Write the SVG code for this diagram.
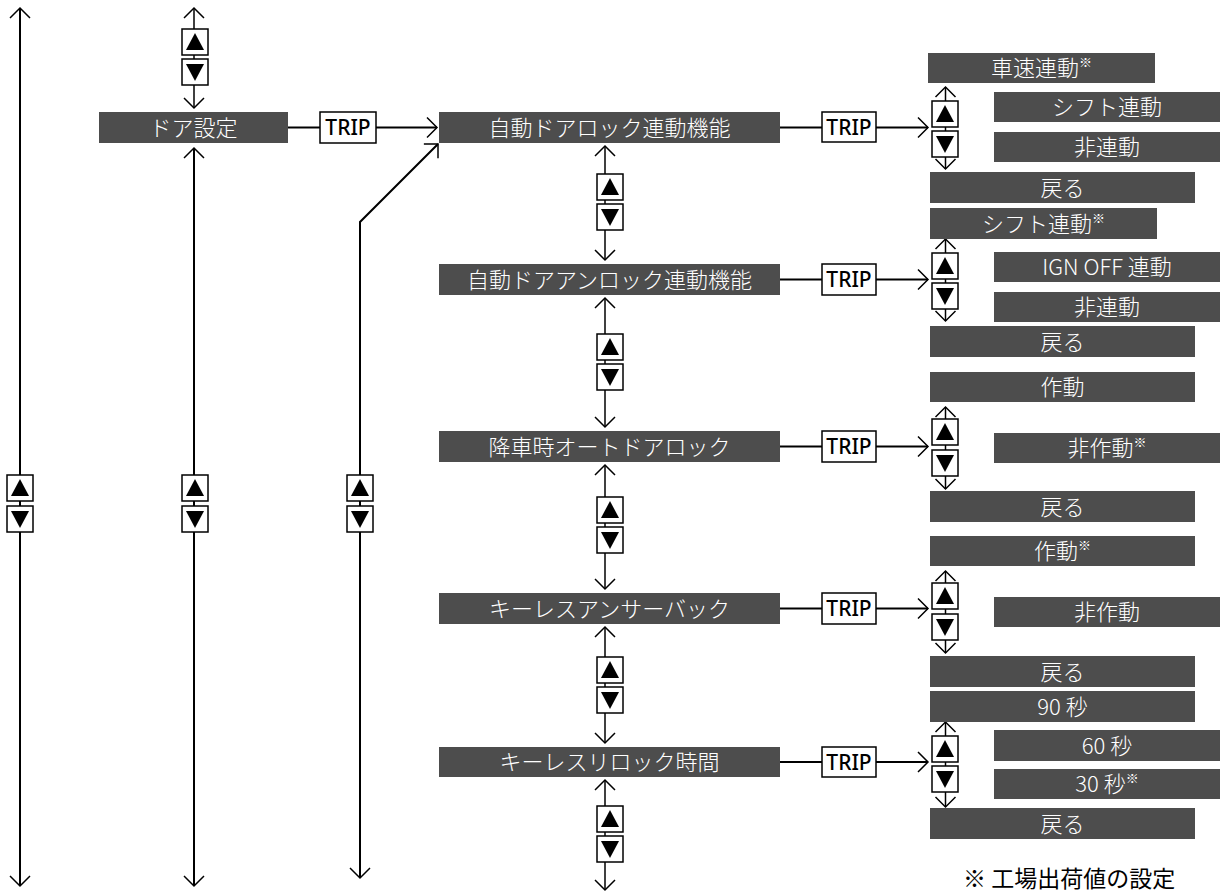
<svg xmlns="http://www.w3.org/2000/svg" xmlns:xlink="http://www.w3.org/1999/xlink" width="1220" height="895" viewBox="0 0 1220 895">
<style>
.n{fill:#4d4d4d}
.t{font-family:"Noto Sans CJK JP","Noto Sans",sans-serif;font-size:22px;font-weight:300;fill:#fff;text-anchor:middle}
.sup{font-size:13px}
.trip rect{fill:#fff;stroke:#000;stroke-width:1.5}
.trip text{font-family:"Noto Sans","Noto Sans CJK JP",sans-serif;font-size:21px;font-weight:500;fill:#000;text-anchor:middle}
.c{fill:none;stroke:#000;stroke-width:1.5}
.L{stroke-width:2}
.bi{marker-start:url(#ah);marker-end:url(#ah)}
.one{marker-end:url(#ah)}
.foot{font-family:"Noto Sans CJK JP","Noto Sans",sans-serif;font-size:23px;fill:#000}
</style>
<defs>
<marker id="ah" markerUnits="userSpaceOnUse" markerWidth="30" markerHeight="30" refX="12" refY="12" orient="auto-start-reverse" overflow="visible">
<path d="M2,2 L12,12 L2,22" fill="none" stroke="#000" stroke-width="1.5"/>
</marker>
<symbol id="bu" overflow="visible"><rect x="0" y="0" width="26" height="26" fill="#fff" stroke="#000" stroke-width="1.5"/><path d="M4,21 L22,21 L13,4 Z" fill="#000"/></symbol>
<symbol id="bd" overflow="visible"><rect x="0" y="0" width="26" height="26" fill="#fff" stroke="#000" stroke-width="1.5"/><path d="M4,5 L22,5 L13,22 Z" fill="#000"/></symbol>
</defs>

<g id="connectors">
<line class="c L bi" x1="20" y1="8" x2="20" y2="886"/>
<line class="c L bi" x1="194" y1="148" x2="194" y2="886"/>
<line class="c bi" x1="194" y1="8" x2="194" y2="108"/>
<polyline class="c L one" points="360,878 360,222 438,144" style="marker-start:url(#ah)"/>
<line class="c L" x1="288" y1="127.5" x2="320" y2="127.5"/>
<line class="c L one" x1="376" y1="127.5" x2="437" y2="127.5"/>
<line class="c L" x1="780" y1="127.5" x2="822" y2="127.5"/>
<line class="c L one" x1="876" y1="127.5" x2="928" y2="127.5"/>
<line class="c L" x1="780" y1="279.5" x2="822" y2="279.5"/>
<line class="c L one" x1="876" y1="279.5" x2="928" y2="279.5"/>
<line class="c L" x1="780" y1="446.5" x2="822" y2="446.5"/>
<line class="c L one" x1="876" y1="446.5" x2="928" y2="446.5"/>
<line class="c L" x1="780" y1="608.5" x2="822" y2="608.5"/>
<line class="c L one" x1="876" y1="608.5" x2="928" y2="608.5"/>
<line class="c L" x1="780" y1="762" x2="822" y2="762"/>
<line class="c L one" x1="876" y1="762" x2="928" y2="762"/>
<line class="c bi" x1="605" y1="146" x2="605" y2="260"/>
<line class="c bi" x1="605" y1="298" x2="605" y2="427"/>
<line class="c bi" x1="605" y1="465" x2="605" y2="589"/>
<line class="c bi" x1="605" y1="627" x2="605" y2="743"/>
<line class="c bi" x1="605" y1="780" x2="605" y2="890"/>
<line class="c bi" x1="945.5" y1="87" x2="945.5" y2="169"/>
<line class="c bi" x1="945.5" y1="239" x2="945.5" y2="321"/>
<line class="c bi" x1="945.5" y1="407" x2="945.5" y2="489"/>
<line class="c bi" x1="945.5" y1="571" x2="945.5" y2="653"/>
<line class="c bi" x1="945.5" y1="722" x2="945.5" y2="807"/>
</g>

<g id="buttons">
<use xlink:href="#bu" x="7" y="475"/><use xlink:href="#bd" x="7" y="506"/>
<use xlink:href="#bu" x="182" y="475"/><use xlink:href="#bd" x="182" y="506"/>
<use xlink:href="#bu" x="347" y="475"/><use xlink:href="#bd" x="347" y="506"/>
<use xlink:href="#bu" x="182" y="29"/><use xlink:href="#bd" x="182" y="59"/>
<use xlink:href="#bu" x="597" y="174"/><use xlink:href="#bd" x="597" y="204"/>
<use xlink:href="#bu" x="597" y="334"/><use xlink:href="#bd" x="597" y="364"/>
<use xlink:href="#bu" x="597" y="497"/><use xlink:href="#bd" x="597" y="527"/>
<use xlink:href="#bu" x="597" y="657"/><use xlink:href="#bd" x="597" y="687"/>
<use xlink:href="#bu" x="597" y="806"/><use xlink:href="#bd" x="597" y="836"/>
<use xlink:href="#bu" x="932" y="101"/><use xlink:href="#bd" x="932" y="131"/>
<use xlink:href="#bu" x="932" y="253"/><use xlink:href="#bd" x="932" y="283"/>
<use xlink:href="#bu" x="932" y="419"/><use xlink:href="#bd" x="932" y="450"/>
<use xlink:href="#bu" x="932" y="583"/><use xlink:href="#bd" x="932" y="614"/>
<use xlink:href="#bu" x="932" y="736"/><use xlink:href="#bd" x="932" y="766"/>
</g>

<g id="trip1" class="trip"><rect x="320" y="112" width="56" height="31"/><text x="348" y="135">TRIP</text></g>
<g id="trip2" class="trip"><rect x="822" y="112" width="54" height="30"/><text x="849" y="135">TRIP</text></g>
<g id="trip3" class="trip"><rect x="822" y="264" width="54" height="31"/><text x="849" y="287">TRIP</text></g>
<g id="trip4" class="trip"><rect x="822" y="431" width="54" height="31"/><text x="849" y="454">TRIP</text></g>
<g id="trip5" class="trip"><rect x="822" y="593" width="54" height="31"/><text x="849" y="616">TRIP</text></g>
<g id="trip6" class="trip"><rect x="822" y="747" width="54" height="30"/><text x="849" y="769.5">TRIP</text></g>

<g id="door"><rect class="n" x="99" y="112" width="189" height="31"/><text class="t" x="193.5" y="135.5">ドア設定</text></g>
<g id="autolock"><rect class="n" x="439" y="112" width="341" height="31"/><text class="t" x="609.5" y="135.5">自動ドアロック連動機能</text></g>
<g id="autounlock"><rect class="n" x="439" y="264" width="341" height="31"/><text class="t" x="609.5" y="287.5">自動ドアアンロック連動機能</text></g>
<g id="exitlock"><rect class="n" x="439" y="431" width="341" height="31"/><text class="t" x="609.5" y="454.5">降車時オートドアロック</text></g>
<g id="answerback"><rect class="n" x="439" y="593" width="341" height="31"/><text class="t" x="609.5" y="616.5">キーレスアンサーバック</text></g>
<g id="relock"><rect class="n" x="439" y="747" width="341" height="30"/><text class="t" x="609.5" y="770">キーレスリロック時間</text></g>

<g id="o1a"><rect class="n" x="928" y="53" width="227" height="30"/><text class="t" x="1041.5" y="76">車速連動<tspan class="sup" dy="-9">※</tspan></text></g>
<g id="o1b"><rect class="n" x="994" y="92" width="226" height="30"/><text class="t" x="1107" y="115">シフト連動</text></g>
<g id="o1c"><rect class="n" x="994" y="132" width="226" height="30"/><text class="t" x="1107" y="155">非連動</text></g>
<g id="o1d"><rect class="n" x="930" y="172" width="265" height="31"/><text class="t" x="1062.5" y="195.5">戻る</text></g>

<g id="o2a"><rect class="n" x="930" y="208" width="227" height="31"/><text class="t" x="1043.5" y="231.5">シフト連動<tspan class="sup" dy="-9">※</tspan></text></g>
<g id="o2b"><rect class="n" x="994" y="252" width="226" height="30"/><text class="t" x="1107" y="275">IGN OFF 連動</text></g>
<g id="o2c"><rect class="n" x="994" y="292" width="226" height="30"/><text class="t" x="1107" y="315">非連動</text></g>
<g id="o2d"><rect class="n" x="930" y="326" width="265" height="31"/><text class="t" x="1062.5" y="349.5">戻る</text></g>

<g id="o3a"><rect class="n" x="930" y="372" width="265" height="30"/><text class="t" x="1062.5" y="395">作動</text></g>
<g id="o3b"><rect class="n" x="994" y="433" width="226" height="30"/><text class="t" x="1107" y="456">非作動<tspan class="sup" dy="-9">※</tspan></text></g>
<g id="o3c"><rect class="n" x="930" y="491" width="265" height="31"/><text class="t" x="1062.5" y="514.5">戻る</text></g>

<g id="o4a"><rect class="n" x="930" y="536" width="265" height="30"/><text class="t" x="1062.5" y="559">作動<tspan class="sup" dy="-9">※</tspan></text></g>
<g id="o4b"><rect class="n" x="994" y="597" width="226" height="30"/><text class="t" x="1107" y="620">非作動</text></g>
<g id="o4c"><rect class="n" x="930" y="656" width="265" height="31"/><text class="t" x="1062.5" y="679.5">戻る</text></g>

<g id="o5a"><rect class="n" x="930" y="691" width="265" height="31"/><text class="t" x="1062.5" y="714.5">90 秒</text></g>
<g id="o5b"><rect class="n" x="994" y="730" width="226" height="31"/><text class="t" x="1107" y="753.5">60 秒</text></g>
<g id="o5c"><rect class="n" x="994" y="769" width="226" height="30"/><text class="t" x="1107" y="792">30 秒<tspan class="sup" dy="-9">※</tspan></text></g>
<g id="o5d"><rect class="n" x="930" y="808" width="265" height="31"/><text class="t" x="1062.5" y="831.5">戻る</text></g>

<text class="foot" x="963" y="887">※ 工場出荷値の設定</text>
</svg>
